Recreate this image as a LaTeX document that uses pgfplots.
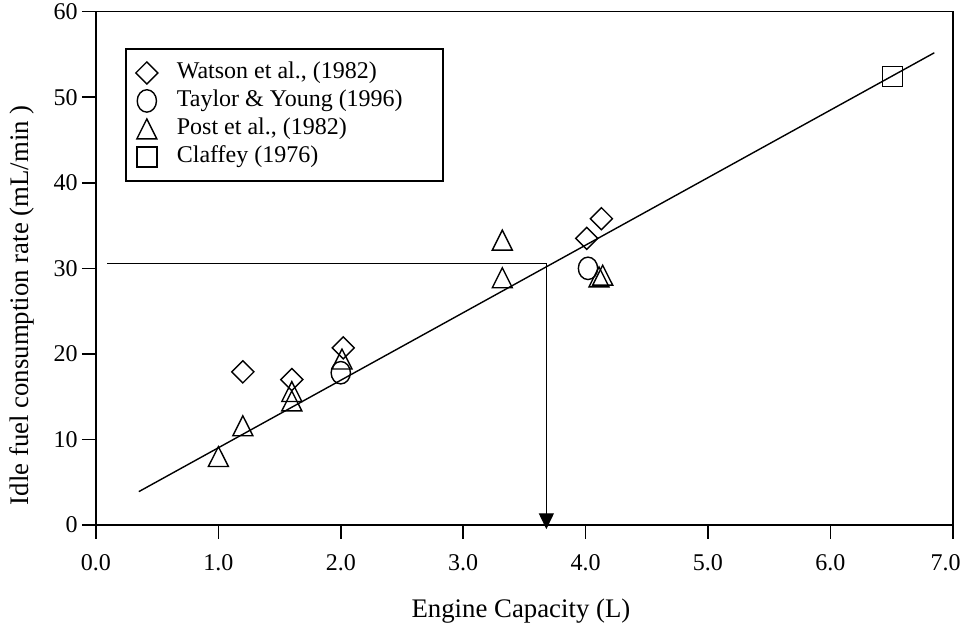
\documentclass[border=0pt]{standalone}
\usepackage{fontspec}
\setmainfont{Liberation Serif}
\usepackage{pgfplots}
\pgfplotsset{compat=1.18}
\usetikzlibrary{arrows.meta}
\pgfplotsset{
  myleg/.style={legend image code/.code={%
    \path[draw=none,fill=none] (0pt,0pt) -- (20.5pt,0pt);
    \draw[##1] plot coordinates {(10.5pt,0pt)};}},
}

\begin{document}
\begin{tikzpicture}
\begin{axis}[
  name=ax,
  at={(0,0)}, anchor=south west,
  scale only axis, width=428.35pt, height=256.65pt,
  xmin=0, xmax=7, ymin=0, ymax=60,
  xtick={0,1,...,7}, ytick={0,10,...,60},
  xticklabels={0.0,1.0,2.0,3.0,4.0,5.0,6.0,{\hspace*{-7pt}7.0}},
  tick align=outside, tick pos=left,
  major tick length=7pt,
  axis line style={line width=0.8pt},
  every tick/.style={black, line width=0.8pt},
  /pgf/number format/assume math mode=true,
  tick label style={font=\fontsize{12}{14}\selectfont},
  xticklabel style={yshift=-4pt},
  yticklabel style={inner xsep=2pt},
  label style={font=\fontsize{13.4}{16}\selectfont},
  xlabel={Engine Capacity (L)},
  ylabel={Idle fuel consumption rate (mL/min )},
  xlabel style={at={(axis description cs:0.496,-0.181)}, anchor=base},
  ylabel style={at={(axis description cs:-0.087,0.428)}, anchor=center},
  clip=false,
  legend style={at={(axis description cs:0.0339,0.929)}, anchor=north west,
    draw=black, line width=0.8pt, font=\fontsize{12}{14}\selectfont,
    inner xsep=0pt, inner ysep=5pt, row sep=0pt, column sep=5pt,
    nodes={inner xsep=0pt, inner ysep=1pt, text height=9pt, text depth=3pt}},
  legend cell align=left,
]
\addplot[black, line width=0.7pt, forget plot] coordinates {(0.35,3.9) (6.85,55.2)};
\addplot[black, line width=0.7pt, forget plot] coordinates {(0.09,30.6) (3.68,30.6)};
\addplot[black, line width=0.7pt, -{Triangle[length=8pt,width=7.5pt]}, forget plot] coordinates {(3.68,30.6) (3.68,-0.5)};

\addplot[black, only marks, myleg, line width=0.7pt, mark=square, mark size=3.9pt, mark options={rotate=45}]
  coordinates {(1.2,17.9) (1.6,17.0) (2.02,20.7) (4.01,33.5) (4.13,35.8)};
\addlegendentry{\makebox[133pt][l]{Watson et al., (1982)}}
\addplot[black, only marks, myleg, line width=0.7pt, mark=o, mark size=5.6pt, mark options={xscale=0.86}]
  coordinates {(2.0,17.8) (4.02,30.0)};
\addlegendentry{\makebox[133pt][l]{Taylor \& Young (1996)}}
\addplot[black, only marks, myleg, line width=0.7pt, mark=triangle, mark size=5.77pt, mark options={yshift=-1.66pt, yscale=1.15}]
  coordinates {(1.0,8.0) (1.2,11.6) (1.6,15.6) (1.6,14.5) (2.01,19.4) (3.32,33.3) (3.32,28.9) (4.11,29.0) (4.14,29.2)};
\addlegendentry{\makebox[133pt][l]{Post et al., (1982)}}
\addplot[black, only marks, myleg, line width=0.7pt, mark=square, mark size=5pt]
  coordinates {(6.51,52.4)};
\addlegendentry{\makebox[133pt][l]{Claffey (1976)}}
\end{axis}
\pgfresetboundingbox
\path[use as bounding box] (-48pt,-50.5pt) rectangle (434pt,262.5pt);
\end{tikzpicture}
\end{document}
